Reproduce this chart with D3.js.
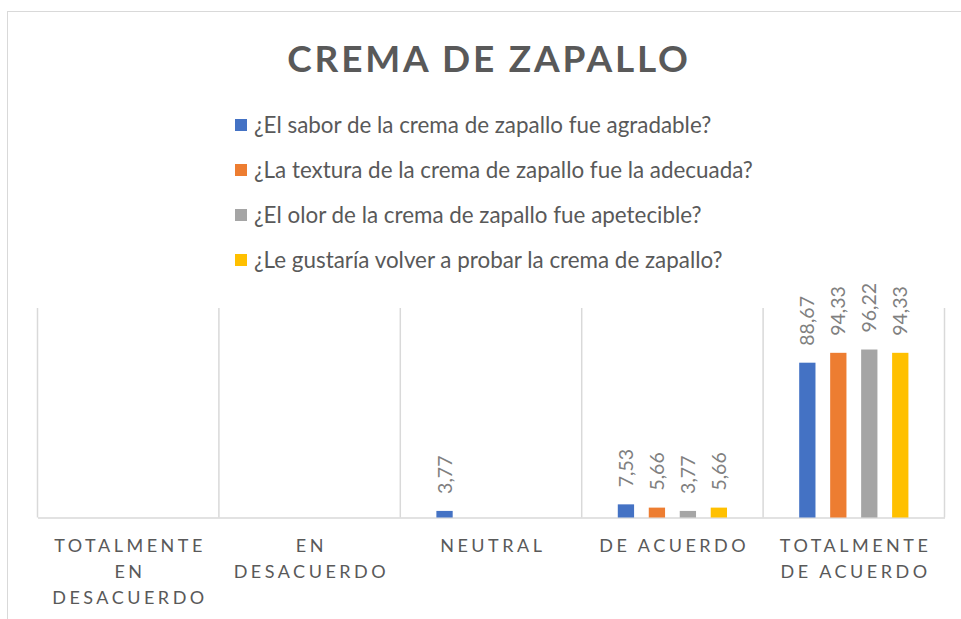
<!DOCTYPE html>
<html>
<head>
<meta charset="utf-8">
<script src="https://cdn.jsdelivr.net/npm/d3@7"></script>
<style>
  body { margin: 0; background: #fff; }
  svg { display: block; font-family: Lato, "Open Sans", sans-serif; }
</style>
</head>
<body>
<div id="chart"></div>
<script>
// categories (x axis), each one split into its wrapped lines
let categories = ["TOTALMENTE EN DESACUERDO", "EN DESACUERDO", "NEUTRAL", "DE ACUERDO", "TOTALMENTE DE ACUERDO"];
let categoryLines = [
    ["TOTALMENTE", "EN", "DESACUERDO"],
    ["EN", "DESACUERDO"],
    ["NEUTRAL"],
    ["DE ACUERDO"],
    ["TOTALMENTE", "DE ACUERDO"]
];

let seriesNames = [
    "¿El sabor de la crema de zapallo fue agradable?",
    "¿La textura de la crema de zapallo fue la adecuada?",
    "¿El olor de la crema de zapallo fue apetecible?",
    "¿Le gustaría volver a probar la crema de zapallo?"
];
let seriesColors = ["#4472c4", "#ed7d31", "#a5a5a5", "#ffc000"];

// values per category, null = no bar
let sabor   = [null, null, 3.77, 7.53, 88.67];
let textura = [null, null, null, 5.66, 94.33];
let olor    = [null, null, null, 3.77, 96.22];
let volver  = [null, null, null, 5.66, 94.33];
let seriesValues = [sabor, textura, olor, volver];

let yMax = 120;

let width = 961;
let height = 619;

let svg = d3.select("#chart")
    .append("svg")
    .attr("width", width)
    .attr("height", height);

// chart frame (runs off the right and bottom edge)
svg.append("rect")
    .attr("x", 7.5)
    .attr("y", 11.5)
    .attr("width", 1000)
    .attr("height", 700)
    .attr("fill", "#fff")
    .attr("stroke", "#d9d9d9");

svg.append("text")
    .text("CREMA DE ZAPALLO")
    .attr("x", 489)
    .attr("y", 72)
    .attr("text-anchor", "middle")
    .attr("font-size", 37)
    .attr("font-weight", "bold")
    .attr("letter-spacing", 2.8)
    .attr("fill", "#595959");

// legend
let legend = svg.append("g")
    .selectAll("g")
    .data(seriesNames)
    .enter()
    .append("g")
    .attr("transform", (d, i) => "translate(235," + (125 + i * 45) + ")");

legend.append("rect")
    .attr("x", 0)
    .attr("y", -6)
    .attr("width", 12)
    .attr("height", 12)
    .attr("fill", (d, i) => seriesColors[i]);

legend.append("text")
    .text(d => d)
    .attr("x", 19)
    .attr("y", 7.5)
    .attr("font-size", 22.4)
    .attr("fill", "#595959");

// scales
let x0 = d3.scaleBand()
    .domain(categories)
    .range([37.5, 944.5]);

let x1 = d3.scaleBand()
    .domain(d3.range(seriesNames.length))
    .range([0, x0.bandwidth()])
    .paddingInner(0.474)
    .paddingOuter(1.165);

let y = d3.scaleLinear()
    .domain([0, yMax])
    .range([517.5, 308]);

// vertical separators between categories
let edges = categories.map(c => x0(c)).concat([x0.range()[1]]);
svg.append("g")
    .selectAll("line")
    .data(edges)
    .enter()
    .append("line")
    .attr("x1", d => d)
    .attr("x2", d => d)
    .attr("y1", y(yMax))
    .attr("y2", y(0))
    .attr("stroke", "#d9d9d9")
    .attr("stroke-width", 1.5);

// category axis
let xAxis = d3.axisBottom(x0)
    .tickSize(0)
    .tickPadding(0);

let axisG = svg.append("g")
    .attr("class", "axis x-axis")
    .attr("transform", "translate(0," + y(0) + ")")
    .call(xAxis);

axisG.select(".domain")
    .attr("stroke", "#d9d9d9")
    .attr("stroke-width", 1.5);

axisG.selectAll(".tick text").each(function(d, i) {
    let t = d3.select(this);
    t.text(null)
        .attr("y", 0)
        .attr("dy", null)
        .attr("font-family", "Lato, sans-serif")
        .attr("font-size", 18)
        .attr("letter-spacing", 3.5)
        .attr("fill", "#595959");
    categoryLines[i].forEach((line, j) => {
        t.append("tspan")
            .attr("x", 1.8)
            .attr("y", 34.5 + j * 26)
            .text(line);
    });
});

// bars
let rows = [];
categories.forEach((c, ci) => {
    seriesValues.forEach((vals, si) => {
        if (vals[ci] !== null) rows.push({ cat: c, series: si, value: vals[ci] });
    });
});

svg.append("g")
    .selectAll("rect")
    .data(rows)
    .enter()
    .append("rect")
    .attr("x", d => x0(d.cat) + x1(d.series))
    .attr("y", d => y(d.value))
    .attr("width", x1.bandwidth())
    .attr("height", d => y(0) - y(d.value))
    .attr("fill", d => seriesColors[d.series]);

let fmt = v => d3.format(".2f")(v).replace(".", ",");

svg.append("g")
    .selectAll("text")
    .data(rows)
    .enter()
    .append("text")
    .text(d => fmt(d.value))
    .attr("transform", d => "translate(" + (x0(d.cat) + x1(d.series) + x1.bandwidth() / 2 + 7) + "," + (y(d.value) - 17) + ") rotate(-90)")
    .attr("font-size", 19.5)
    .attr("fill", "#808080");
</script>
</body>
</html>
